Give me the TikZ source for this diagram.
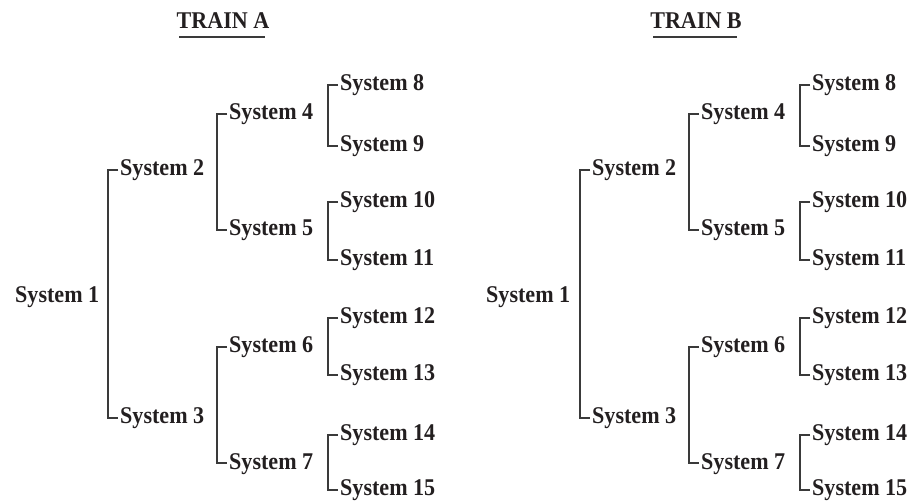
\documentclass[tikz,border=0pt]{standalone}
\usepackage{fontspec}
\setmainfont{Liberation Serif}
\newfontfamily\sysfont[FakeStretch=0.92]{Liberation Serif}
\definecolor{ink}{HTML}{231F20}
\definecolor{wire}{HTML}{3A3A3A}
\tikzset{
  sys/.style={anchor=west, inner sep=0pt, text height=17pt, text depth=5pt,
    font=\sysfont\fontsize{24}{28}\selectfont\bfseries, text=ink},
  ttl/.style={anchor=base, inner sep=0pt, text depth=0pt,
    font=\sysfont\fontsize{24}{28}\selectfont\bfseries, text=ink},
  wirel/.style={draw=wire, line width=1.3pt},
}
\newcommand\mybracket[2]{%
  \draw[wirel] ([xshift=-2pt]#1.west) -- ([xshift=-12pt]#1.west) |- ([xshift=-2pt]#2.west);}
\newcommand\mytrain[7]{%
  % #1 prefix, #2 title, #3 title centre x, #4..#7 column x
  \begin{scope}[name prefix=#1-]
    \node[ttl] (t) at (#3,29) {#2};
    \draw[wirel] ([shift={(3,8)}]t.base west) -- ([shift={(-5,8)}]t.base east);
    \node[sys] (s1) at (#4,297) {System 1};
    \node[sys] (s2) at (#5,170) {System 2};
    \node[sys] (s3) at (#5,418) {System 3};
    \node[sys] (s4) at (#6,114) {System 4};
    \node[sys] (s5) at (#6,230) {System 5};
    \node[sys] (s6) at (#6,347) {System 6};
    \node[sys] (s7) at (#6,463) {System 7};
    \node[sys] (s8) at (#7,85) {System 8};
    \node[sys] (s9) at (#7,146) {System 9};
    \node[sys] (s10) at (#7,202) {System 10};
    \node[sys] (s11) at (#7,260) {System 11};
    \node[sys] (s12) at (#7,318) {System 12};
    \node[sys] (s13) at (#7,375) {System 13};
    \node[sys] (s14) at (#7,435) {System 14};
    \node[sys] (s15) at (#7,490) {System 15};
    \mybracket{s2}{s3}
    \mybracket{s4}{s5}
    \mybracket{s6}{s7}
    \mybracket{s8}{s9}
    \mybracket{s10}{s11}
    \mybracket{s12}{s13}
    \mybracket{s14}{s15}
  \end{scope}}
\begin{document}
\begin{tikzpicture}[x=1pt,y=-1pt]
  \useasboundingbox (0,0) rectangle (916,502);
  \mytrain{a}{TRAIN A}{223}{15}{120}{229}{340}
  \mytrain{b}{TRAIN B}{696}{486}{592}{701}{812}
\end{tikzpicture}
\end{document}
